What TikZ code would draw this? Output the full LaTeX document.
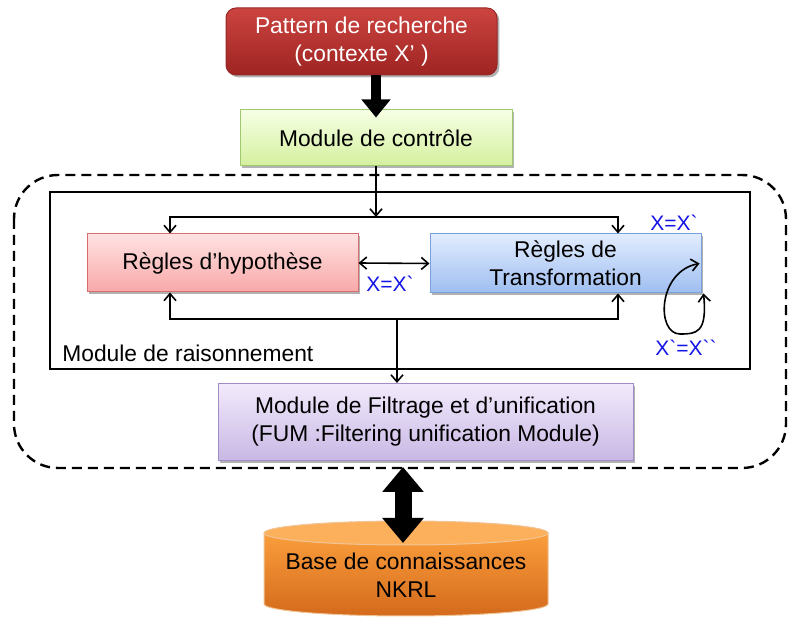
\documentclass[tikz,border=0pt]{standalone}
\usepackage{fontspec}
\setmainfont{Liberation Sans}
\usepackage{tikz}
\usetikzlibrary{arrows.meta,positioning,calc,shadows}

\definecolor{patTop}{RGB}{204,68,64}
\definecolor{patBot}{RGB}{158,36,34}
\definecolor{patEdge}{RGB}{150,40,40}
\definecolor{ctlTop}{RGB}{246,255,228}
\definecolor{ctlBot}{RGB}{212,240,158}
\definecolor{ctlEdge}{RGB}{160,200,110}
\definecolor{hypTop}{RGB}{255,226,226}
\definecolor{hypBot}{RGB}{248,168,168}
\definecolor{hypEdge}{RGB}{215,110,110}
\definecolor{trnTop}{RGB}{226,236,255}
\definecolor{trnBot}{RGB}{158,190,240}
\definecolor{trnEdge}{RGB}{120,160,220}
\definecolor{filTop}{RGB}{242,234,252}
\definecolor{filBot}{RGB}{200,184,228}
\definecolor{filEdge}{RGB}{160,140,200}
\definecolor{kbTop}{RGB}{250,158,60}
\definecolor{kbBot}{RGB}{212,106,28}
\definecolor{kbLight}{RGB}{252,176,92}
\definecolor{kbEdge}{RGB}{240,196,150}
\definecolor{lblue}{RGB}{20,20,230}

\begin{document}
\begin{tikzpicture}[x=0.5pt,y=-0.5pt,
  box/.style={rectangle,draw,line width=0.5pt,align=center,
    font=\fontsize{11.4}{14}\selectfont,inner sep=2pt,
    drop shadow={shadow xshift=1.2pt,shadow yshift=-1.2pt,opacity=0.3,fill=black}},
  txt/.style={font=\fontsize{11.4}{14}\selectfont,align=center,inner sep=0pt},
  blue lbl/.style={font=\fontsize{10.5}{12}\selectfont,text=lblue,inner sep=0pt},
  link/.style={line width=0.8pt,-{Straight Barb[length=3.5pt,width=6pt]}},
  both/.style={line width=0.8pt,{Straight Barb[length=3.5pt,width=6pt]}-{Straight Barb[length=3.5pt,width=6pt]}},
  fat/.style={line width=5pt,-{Triangle[width=14pt,length=9pt]}}]
  \useasboundingbox (0,0) rectangle (788,619);
  \draw[line width=1.2pt,dash pattern=on 5pt off 3pt,rounded corners=22pt]
    (14,175) rectangle (786,468); % 外側の点線枠
  \draw[line width=1pt] (50,192) rectangle (750,369); % 推論モジュールの枠
  \node[txt,anchor=base west] (raison) at (62,362) {Module de raisonnement}; % 枠のラベル

  \node[box,rounded corners=5pt,draw=patEdge,top color=patTop,bottom color=patBot,
    text=white,minimum width=135.5pt,minimum height=33.5pt]
    (pat) at (361.5,41.5) {Pattern de recherche\\(contexte X’ )}; % 検索パターン
  \node[box,draw=ctlEdge,top color=ctlTop,bottom color=ctlBot,
    minimum width=136pt,minimum height=28pt]
    (ctrl) at (376,138) {Module de contrôle}; % 制御モジュール
  \node[box,draw=hypEdge,top color=hypTop,bottom color=hypBot,
    minimum width=135.5pt,minimum height=29pt]
    (hyp) at (222.5,263) {Règles d’hypothèse}; % 仮説規則
  \node[box,draw=trnEdge,top color=trnTop,bottom color=trnBot,
    minimum width=135.5pt,minimum height=29.5pt]
    (trans) at (565.5,263.5) {Règles de\\Transformation}; % 変換規則
  \node[box,draw=filEdge,top color=filTop,bottom color=filBot,
    minimum width=207.5pt,minimum height=38.5pt]
    (filt) at (425.5,422) {Module de Filtrage et d’unification\\(FUM :Filtering unification Module)}; % フィルタ・単一化モジュール

  % 知識ベース（円柱）
  \shade[top color=kbTop,bottom color=kbBot,draw=kbEdge,line width=0.5pt]
    (264,533) -- (264,604) arc[start angle=180,end angle=0,x radius=142,y radius=12]
    -- (548,533) -- cycle;
  \filldraw[fill=kbLight,draw=kbEdge,line width=0.5pt] (406,533) ellipse[x radius=142,y radius=12];
  \node[txt] (kb) at (406,575) {Base de connaissances\\NKRL};
  \coordinate (kbtop) at (403,543);

  \coordinate (tl) at (170,217);
  \coordinate (tr) at (618,217);
  \coordinate (bl) at (170,319);
  \coordinate (br) at (618,319);
  \coordinate (mid) at (397,319);

  \draw[fat] (pat.south -| ctrl.north) -- ([yshift=-4pt]ctrl.north); % 太い矢印（パターン→制御）
  \draw[link] (ctrl.south) -- (ctrl.south |- tl); % 制御から推論へ
  \draw[both] (tl |- hyp.north) -- (tl) -- (tr) -- (tr |- trans.north); % 上の分配線
  \draw[both] (bl |- hyp.south) -- (bl) -- (br) -- (br |- trans.south); % 下の戻り線
  \draw[both] (hyp.east) -- (trans.west); % 仮説と変換の間
  \draw[link] (mid) -- (mid |- filt.north); % 推論からフィルタへ
  \draw[both] ([xshift=1pt]trans.south east) .. controls +(4,40) and +(16,0) .. (680,334)
    .. controls +(-24,0) and +(-42,8) .. ([xshift=-1pt]trans.east); % 自己ループ
  \draw[fat,line width=8.5pt,{Triangle[width=20pt,length=12.5pt]}-{Triangle[width=20pt,length=12.5pt]}]
    ([yshift=-3pt]filt.south -| kbtop) -- (kbtop); % 知識ベースとの双方向

  \node[blue lbl] (eq1) at (390,284) {X=X\textasciigrave}; % ラベル
  \node[blue lbl] (eq2) at (674,223) {X=X\textasciigrave};
  \node[blue lbl] (eq3) at (686,348) {X\textasciigrave=X\textasciigrave\textasciigrave};
\end{tikzpicture}
\end{document}
